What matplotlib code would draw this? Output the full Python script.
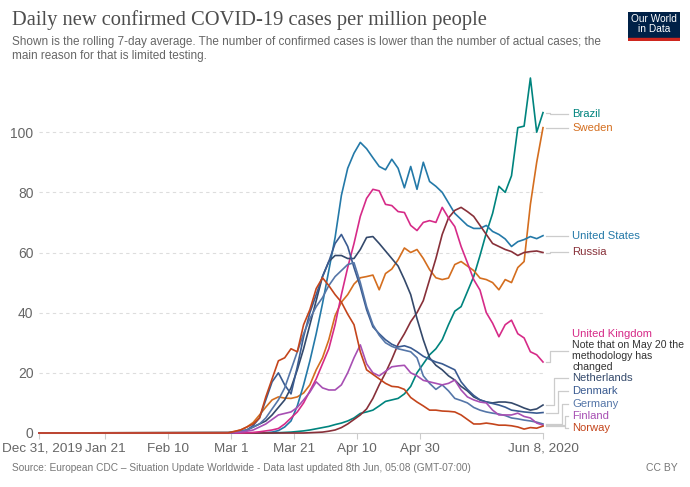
import matplotlib.pyplot as plt
import matplotlib.dates as mdates
import matplotlib.transforms as mtransforms
from matplotlib.patches import Rectangle
import pandas as pd

# 7-day rolling average, cases per million, every 2 days from Feb 29 to Jun 8 2020
start = pd.Timestamp("2019-12-31")
dates = pd.date_range("2020-02-29", "2020-06-08", freq="2D")

brazil = [0, 0, 0, 0, 0, 0, 0, 0, 0.1, 0.2,
          0.3, 0.5, 0.7, 1.0, 1.4, 1.8, 2.2, 2.8, 3.3, 4.0,
          5.0, 6.5, 7.0, 7.6, 9.0, 10.5, 11.0, 11.5, 13.0, 15.5,
          20.0, 23.0, 26.0, 28.0, 31.0, 36.0, 40.5, 42.0, 47.0, 52.0,
          59.0, 66.5, 73.0, 82.0, 80.0, 85.5, 101.5, 102.0, 118.0, 100.0,
          106.5]
sweden = [0.2, 0.5, 1.0, 2.0, 3.5, 6.0, 8.6, 11.0, 12.0, 11.6,
          11.5, 12.0, 13.3, 16.0, 21.0, 25.0, 31.0, 39.0, 43.5, 46.0,
          49.5, 51.6, 52.0, 52.5, 47.6, 53.0, 54.5, 57.6, 61.5, 60.0,
          61.0, 58.0, 54.3, 51.6, 51.0, 51.5, 56.0, 57.0, 55.5, 54.0,
          51.5, 51.0, 50.0, 47.6, 51.0, 50.0, 55.0, 57.0, 76.0, 90.0,
          101.5]
united_states = [0, 0, 0, 0, 0, 0, 0.1, 0.3, 0.8, 2.0,
                 4.0, 9.0, 16.0, 24.0, 33.0, 43.0, 54.0, 65.0, 79.0, 88.0,
                 93.0, 96.6, 94.5, 91.5, 88.6, 87.5, 91.0, 88.0, 81.5, 88.6,
                 81.0, 90.0, 83.6, 82.0, 80.0, 76.5, 73.0, 71.0, 69.0, 68.0,
                 68.0, 69.0, 67.0, 66.0, 64.5, 62.0, 63.6, 64.3, 65.3, 64.6,
                 65.6]
russia = [0, 0, 0, 0, 0, 0, 0, 0, 0, 0,
          0, 0, 0, 0.1, 0.2, 0.3, 0.6, 1.0, 1.8, 3.0,
          4.5, 6.0, 8.0, 11.5, 16.0, 20.0, 24.5, 29.5, 33.0, 37.0,
          40.0, 44.0, 51.0, 58.0, 66.0, 71.5, 74.0, 75.0, 73.6, 72.0,
          69.0, 66.0, 63.0, 62.0, 61.0, 60.3, 59.0, 60.0, 60.3, 60.5,
          60.0]
united_kingdom = [0, 0, 0, 0.1, 0.2, 0.4, 0.7, 1.0, 1.5, 3.0,
                  5.0, 7.0, 10.0, 14.0, 18.0, 23.0, 28.0, 36.0, 46.0, 55.0,
                  63.0, 72.0, 78.0, 81.0, 80.5, 76.0, 75.6, 73.6, 73.3, 69.0,
                  67.3, 70.0, 70.6, 70.0, 75.0, 71.5, 68.6, 62.0, 56.6, 51.0,
                  47.5, 40.0, 36.5, 32.0, 36.0, 37.5, 33.0, 31.6, 27.0, 26.0,
                  23.6]
netherlands = [0, 0.2, 0.5, 1.0, 2.0, 3.0, 4.0, 6.0, 8.5, 11.0,
               15.0, 21.0, 28.0, 36.0, 44.0, 52.0, 57.0, 59.0, 59.0, 58.0,
               58.0, 61.0, 65.0, 65.3, 63.0, 60.5, 58.0, 55.5, 51.0, 46.0,
               38.0, 31.0, 25.0, 22.5, 21.0, 19.0, 17.6, 15.5, 14.0, 12.0,
               11.0, 10.3, 10.0, 10.3, 10.3, 10.0, 9.2, 8.3, 7.6, 8.0,
               9.3]
denmark = [0, 0.2, 0.5, 1.0, 2.5, 5.0, 11.0, 17.0, 20.0, 16.0,
           13.0, 22.0, 32.0, 40.0, 46.0, 52.0, 57.0, 63.0, 66.0, 62.0,
           55.0, 48.6, 41.0, 35.3, 33.0, 31.0, 29.5, 28.6, 29.0, 28.3,
           27.0, 25.5, 24.5, 23.6, 23.0, 22.0, 21.0, 17.0, 14.5, 12.5,
           11.0, 10.3, 9.8, 9.3, 8.6, 7.6, 7.3, 7.0, 6.8, 6.6,
           6.8]
germany = [0.2, 0.3, 0.6, 1.0, 2.0, 3.0, 5.0, 8.0, 11.0, 15.0,
           21.0, 27.0, 33.0, 38.0, 42.0, 45.0, 49.0, 52.0, 54.0, 56.0,
           56.6, 50.0, 42.0, 36.0, 32.5, 30.0, 28.8, 28.0, 27.5, 27.0,
           25.0, 19.0, 16.5, 14.5, 16.0, 14.0, 11.5, 10.8, 10.0, 8.5,
           7.6, 7.0, 6.6, 6.3, 5.8, 5.0, 4.7, 4.3, 4.0, 3.6,
           3.0]
finland = [0, 0.1, 0.3, 0.6, 1.0, 2.0, 3.0, 4.5, 6.0, 6.5,
           7.0, 8.5, 11.0, 13.6, 17.0, 15.0, 14.3, 14.3, 16.0, 20.0,
           25.0, 29.3, 23.0, 20.0, 19.0, 20.5, 22.0, 22.3, 22.5, 20.0,
           19.0, 17.5, 17.0, 16.5, 16.0, 16.5, 17.6, 14.3, 12.0, 11.0,
           10.3, 10.0, 7.6, 6.0, 6.0, 6.0, 6.6, 5.5, 5.0, 3.3,
           2.6]
norway = [0, 0.5, 1.0, 2.0, 3.0, 5.0, 12.0, 18.0, 24.0, 25.0,
          28.0, 27.0, 36.0, 41.0, 48.0, 51.6, 49.0, 46.0, 43.5, 39.5,
          36.0, 27.0, 21.0, 19.5, 18.0, 16.5, 15.5, 15.3, 14.5, 11.8,
          10.3, 9.0, 7.6, 7.6, 7.3, 7.2, 7.0, 6.0, 4.5, 3.0,
          3.0, 3.3, 3.0, 2.6, 2.6, 2.4, 2.0, 1.3, 1.8, 1.6,
          2.3]

countries = ["Brazil", "Sweden", "United States", "Russia", "United Kingdom",
             "Netherlands", "Denmark", "Germany", "Finland", "Norway"]
series = [brazil, sweden, united_states, russia, united_kingdom,
          netherlands, denmark, germany, finland, norway]
colors = ["#00847e", "#d46e1f", "#2479a8", "#883039", "#d62b88",
          "#34496b", "#3a5b91", "#5576a8", "#a74fb3", "#c4451c"]
# label y positions (in data units) and leader elbow x (pixels)
label_y = [106.2, 101.5, 65.6, 60.2, 32.9, 18.3, 14.0, 9.7, 5.7, 1.7]
leader_y = [106.2, 101.5, 65.6, 60.2, 27.3, 18.3, 14.0, 9.7, 5.7, 1.7]
elbow_px = [550, 550, 550, 550, 550, 554, 558, 562, 565, 565]

tick_dates = ["2019-12-31", "2020-01-21", "2020-02-10", "2020-03-01",
              "2020-03-21", "2020-04-10", "2020-04-30", "2020-06-08"]
tick_labels = ["Dec 31, 2019", "Jan 21", "Feb 10", "Mar 1", "Mar 21",
               "Apr 10", "Apr 30", "Jun 8, 2020"]

plt.rcParams["font.family"] = ["Liberation Sans", "DejaVu Sans"]

W, H = 690, 487
fig = plt.figure(figsize=(6.9, 4.87), dpi=100)
ax = fig.add_axes([39 / W, (H - 433) / H, (543 - 39) / W, (433 - 72) / H])

x = [start] + list(dates)
for name, vals, c in zip(countries, series, colors):
    ax.plot(x, [0] + vals, color=c, lw=1.2, clip_on=False, zorder=3)

x0 = mdates.date2num(start)
x1 = mdates.date2num(dates[-1])
ax.set_xlim(x0, x1)
ax.set_ylim(0, 120)
day_per_px = (x1 - x0) / (543 - 39)


def px2x(px):
    return x1 + (px - 543) * day_per_px


for name, vals, c, ly, ty, ex in zip(countries, series, colors,
                                      label_y, leader_y, elbow_px):
    end = vals[-1]
    ax.plot([px2x(546), px2x(ex), px2x(ex), px2x(568)], [end, end, ty, ty],
            color="#cccccc", lw=0.9, clip_on=False, zorder=2)
    ax.text(px2x(572), ly, name, color=c, fontsize=8.1, va="center",
            clip_on=False)

note = ["Note that on May 20 the", "methodology has", "changed"]
for i, line in enumerate(note):
    ax.text(px2x(572), 29.3 - i * 3.66, line, color="#333333", fontsize=7.6,
            va="center", clip_on=False)

ax.set_yticks([0, 20, 40, 60, 80, 100])
ax.yaxis.grid(True, linestyle=(0, (3, 3)), color="#dddddd", lw=0.8)
ax.set_axisbelow(True)
ax.set_xticks([mdates.date2num(pd.Timestamp(d)) for d in tick_dates])
ax.set_xticklabels(tick_labels)
for s in ["top", "right", "left"]:
    ax.spines[s].set_visible(False)
ax.spines["bottom"].set_color("#cccccc")
ax.tick_params(axis="x", length=4, color="#cccccc", labelcolor="#666666",
               labelsize=9.7, pad=3)
ax.tick_params(axis="y", length=0, labelcolor="#666666", labelsize=10, pad=4)
# nudge the first date label so it stays inside the figure
first = ax.get_xticklabels()[0]
first.set_transform(first.get_transform() +
                    mtransforms.ScaledTranslation(3 / 100, 0, fig.dpi_scale_trans))

fig.text(12 / W, 1 - 20 / H, "Daily new confirmed COVID-19 cases per million people",
         family=["Liberation Serif", "DejaVu Serif"], fontsize=14.8,
         color="#4d4d4d", va="center")
fig.text(12 / W, 1 - 42 / H,
         "Shown is the rolling 7-day average. The number of confirmed cases is lower "
         "than the number of actual cases; the", fontsize=8.45, color="#666666",
         va="center")
fig.text(12 / W, 1 - 56 / H, "main reason for that is limited testing.",
         fontsize=8.45, color="#666666", va="center")
fig.text(12 / W, 1 - 468 / H,
         "Source: European CDC \u2013 Situation Update Worldwide - Data last updated "
         "8th Jun, 05:08 (GMT-07:00)", fontsize=7.3, color="#777777", va="center")
fig.text(678 / W, 1 - 468 / H, "CC BY", fontsize=7.5, color="#777777",
         va="center", ha="right")

logo = fig.add_axes([628 / W, (H - 41) / H, 52 / W, 29 / H])
logo.set_facecolor("#002147")
logo.set_xticks([])
logo.set_yticks([])
for s in logo.spines.values():
    s.set_visible(False)
logo.set_xlim(0, 1)
logo.set_ylim(0, 1)
logo.add_patch(Rectangle((0, 0), 1, 0.1, color="#ce261e"))
logo.text(0.5, 0.57, "Our World\nin Data", color="white", fontsize=7.3,
          ha="center", va="center", linespacing=1.0)

fig.savefig("out.png", dpi=100)
